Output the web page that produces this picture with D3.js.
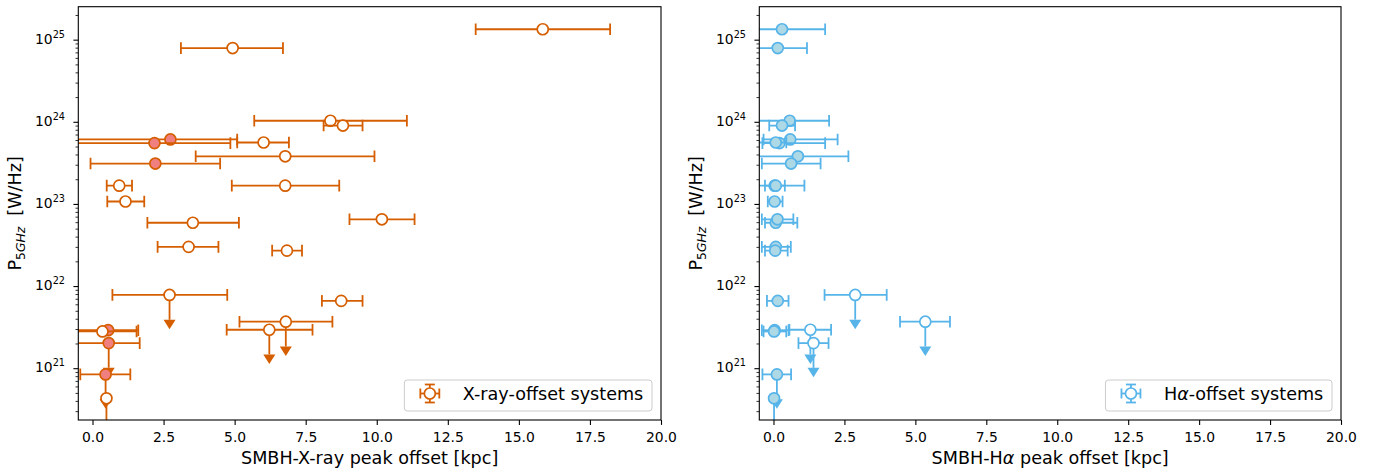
<!DOCTYPE html>
<html>
<head>
<meta charset="utf-8">
<script src="https://cdn.jsdelivr.net/npm/d3@7"></script>
<style>
  body { margin: 0; background: #fff; }
  text { font-family: "DejaVu Sans", sans-serif; fill: #000; }
</style>
</head>
<body>
<svg id="chart" width="1388" height="473"></svg>
<script>
// 5 GHz radio power of each system [W/Hz]
const power = [1.34e25, 7.9e24, 1.03e24, 9.0e23, 6.1e23, 5.5e23, 5.6e23, 3.8e23, 3.1e23,
  1.67e23, 1.67e23, 1.07e23, 5.9e22, 6.5e22, 3.0e22, 2.7e22, 7.8e21, 6.6e21, 3.68e21,
  2.94e21, 2.9e21, 2.8e21, 2.02e21, 8.4e20, 4.3e20];
// radio power is only an upper limit
const upperLimit = [false, false, false, false, false, false, false, false, false,
  false, false, false, false, false, false, false, true, false, true,
  true, false, false, true, true, true];

// SMBH - X-ray peak offset [kpc] with lower / upper error bounds
const xrayOffset = [15.84, 4.93, 8.37, 8.81, 2.74, 2.18, 6.02, 6.78, 2.21,
  0.94, 6.78, 1.16, 3.53, 10.18, 3.38, 6.84, 2.71, 8.75, 6.80,
  6.22, 0.55, 0.35, 0.57, 0.46, 0.49];
const xrayLow = [13.48, 3.11, 5.69, 8.13, -0.8, -0.8, 5.09, 3.63, -0.07,
  0.50, 4.90, 0.52, 1.93, 9.04, 2.29, 6.32, 0.70, 8.07, 5.17,
  4.72, -0.8, -0.8, -0.8, -0.43, null];
const xrayHigh = [18.21, 6.70, 11.06, 9.50, 5.09, 4.85, 6.91, 9.92, 4.49,
  1.39, 8.68, 1.82, 5.15, 11.33, 4.43, 7.37, 4.74, 9.50, 8.44,
  7.74, 1.61, 1.55, 1.66, 1.33, null];
const xrayFilled = [false, false, false, false, true, true, false, false, true,
  false, false, false, false, false, false, false, false, false, false,
  false, true, false, true, true, false];

// SMBH - Halpha peak offset [kpc] with lower / upper error bounds
const haOffset = [0.30, 0.15, 0.57, 0.30, 0.59, 0.21, 0.08, 0.86, 0.62,
  0.04, 0.08, 0.04, 0.08, 0.14, 0.08, 0.06, 2.88, 0.15, 5.35,
  1.30, 0.04, 0.02, 1.41, 0.12, 0.02];
const haLow = [-0.9, -0.9, -0.9, -0.15, -0.35, -0.39, -0.6, -0.9, -0.41,
  -0.9, -0.3, -0.2, -0.3, -0.41, -0.41, -0.3, 1.80, -0.23, 4.46,
  0.56, -0.41, -0.35, 0.88, -0.39, null];
const haHigh = [1.82, 1.18, 1.96, 0.76, 2.26, 1.82, 0.45, 2.64, 1.66,
  1.09, 0.40, 0.32, 0.84, 0.70, 0.61, 0.50, 3.99, 0.53, 6.22,
  2.03, 0.53, 0.45, 1.94, 0.62, null];
const haFilled = [true, true, true, true, true, true, true, true, true,
  true, true, true, true, true, true, true, false, true, false,
  false, true, true, false, true, true];

const xTicks = [0, 2.5, 5, 7.5, 10, 12.5, 15, 17.5, 20];
const yTicks = [1e21, 1e22, 1e23, 1e24, 1e25];

const svg = d3.select("#chart");
const plotTop = 6.7, plotBottom = 420;
const capHalf = 5.8;

const panels = [
  {
    left: 78.3, right: 661,
    offset: xrayOffset, low: xrayLow, high: xrayHigh, filled: xrayFilled,
    color: "#D55E00", fillColor: "#F08080",
    xlabel: [["SMBH-X-ray peak offset [kpc]", false]],
    legend: [["X-ray-offset systems", false]],
    ylabelX: 21
  },
  {
    left: 759.3, right: 1341,
    offset: haOffset, low: haLow, high: haHigh, filled: haFilled,
    color: "#56B4E9", fillColor: "#ADD8E6",
    xlabel: [["SMBH-H", false], ["α", true], [" peak offset [kpc]", false]],
    legend: [["H", false], ["α", true], ["-offset systems", false]],
    ylabelX: 702
  }
];

function addPieces(text, pieces) {
  pieces.forEach(([s, italic]) => {
    text.append("tspan").attr("font-style", italic ? "italic" : null).text(s);
  });
}

panels.forEach((p, idx) => {
  const x = d3.scaleLinear().domain([-0.5, 20]).range([p.left, p.right]);
  const y = d3.scaleLog().domain([2.34e20, 2.52e25]).range([plotBottom, plotTop]);

  svg.append("clipPath").attr("id", "clip" + idx)
    .append("rect")
    .attr("x", p.left).attr("y", plotTop)
    .attr("width", p.right - p.left).attr("height", plotBottom - plotTop);

  // x axis
  const xAxis = svg.append("g")
    .attr("transform", `translate(0,${plotBottom})`)
    .call(d3.axisBottom(x).tickValues(xTicks).tickFormat(d3.format(".1f"))
      .tickSize(4.9).tickPadding(7.5));
  xAxis.select(".domain").remove();
  xAxis.selectAll(".tick line").attr("stroke-width", 1.1);
  xAxis.selectAll(".tick text").attr("font-size", 13.9).attr("font-family", "DejaVu Sans");

  // y axis, minor ticks first
  const minor = [];
  for (let e = 20; e <= 25; e++) {
    for (let k = 2; k <= 9; k++) {
      const v = k * Math.pow(10, e);
      if (v > y.domain()[0] && v < y.domain()[1]) minor.push(v);
    }
  }
  const yMinor = svg.append("g")
    .attr("transform", `translate(${p.left},0)`)
    .call(d3.axisLeft(y).tickValues(minor).tickFormat("").tickSize(2.8));
  yMinor.select(".domain").remove();
  yMinor.selectAll(".tick line").attr("stroke-width", 0.8);

  const yAxis = svg.append("g")
    .attr("transform", `translate(${p.left},0)`)
    .call(d3.axisLeft(y).tickValues(yTicks).tickFormat("").tickSize(4.9).tickPadding(8.4));
  yAxis.select(".domain").remove();
  yAxis.selectAll(".tick line").attr("stroke-width", 1.1);
  yAxis.selectAll(".tick text")
    .attr("font-family", "DejaVu Sans")
    .attr("dy", "0.36em")
    .each(function (d) {
      const t = d3.select(this);
      t.append("tspan").attr("font-size", 13.9).text("10");
      t.append("tspan").attr("font-size", 9.7).attr("dy", -6)
        .text(Math.round(Math.log10(d)));
    });

  // data
  const pts = power.map((v, i) => ({
    p: v, x: p.offset[i], lo: p.low[i], hi: p.high[i],
    filled: p.filled[i], ul: upperLimit[i]
  }));

  const plot = svg.append("g").attr("clip-path", `url(#clip${idx})`);
  const grp = plot.selectAll("g.pt").data(pts).join("g").attr("class", "pt");

  const withErr = grp.filter(d => d.lo != null);
  withErr.append("line")
    .attr("x1", d => x(d.lo)).attr("x2", d => x(d.hi))
    .attr("y1", d => y(d.p)).attr("y2", d => y(d.p))
    .attr("stroke", p.color).attr("stroke-width", 1.8);
  ["lo", "hi"].forEach(k => {
    withErr.append("line")
      .attr("x1", d => x(d[k])).attr("x2", d => x(d[k]))
      .attr("y1", d => y(d.p) - capHalf).attr("y2", d => y(d.p) + capHalf)
      .attr("stroke", p.color).attr("stroke-width", 1.8);
  });

  const lim = grp.filter(d => d.ul);
  lim.append("line")
    .attr("x1", d => x(d.x)).attr("x2", d => x(d.x))
    .attr("y1", d => y(d.p)).attr("y2", d => y(d.p / 2))
    .attr("stroke", p.color).attr("stroke-width", 1.8);
  lim.append("path")
    .attr("d", d => {
      const cx = x(d.x), cy = y(d.p / 2);
      return `M${cx - 6},${cy}L${cx + 6},${cy}L${cx},${cy + 9.5}Z`;
    })
    .attr("fill", p.color);

  grp.append("circle")
    .attr("cx", d => x(d.x)).attr("cy", d => y(d.p)).attr("r", 5.5)
    .attr("fill", d => d.filled ? p.fillColor : "#fff")
    .attr("stroke", p.color).attr("stroke-width", 1.7);

  // frame
  svg.append("rect")
    .attr("x", p.left).attr("y", plotTop)
    .attr("width", p.right - p.left).attr("height", plotBottom - plotTop)
    .attr("fill", "none").attr("stroke", "#000").attr("stroke-width", 1.1);

  // axis labels
  const xl = svg.append("text")
    .attr("x", (p.left + p.right) / 2).attr("y", 464)
    .attr("text-anchor", "middle").attr("font-size", 17.6);
  addPieces(xl, p.xlabel);

  const yl = svg.append("text")
    .attr("transform", `translate(${p.ylabelX},${(plotTop + plotBottom) / 2}) rotate(-90)`)
    .attr("text-anchor", "middle").attr("font-size", 17.6);
  yl.append("tspan").text("P");
  yl.append("tspan").attr("font-size", 12.3).attr("dy", 4).text("5");
  yl.append("tspan").attr("font-size", 12.3).attr("font-style", "italic").text("GHz");
  yl.append("tspan").attr("dy", -4).text("\u00a0 [W/Hz]");

  // legend (lower right)
  const leg = svg.append("g");
  const box = leg.append("rect");
  const lt = leg.append("text").attr("font-size", 17.6).attr("y", 400);
  addPieces(lt, p.legend);
  const textLen = lt.node().getComputedTextLength();
  const boxRight = p.right - 9;
  const textStart = boxRight - 8.7 - textLen;
  lt.attr("x", textStart);
  const hx = textStart - 33, hy = 393.5;
  const boxLeft = hx - 25.5;
  box.attr("x", boxLeft).attr("y", 380)
    .attr("width", boxRight - boxLeft).attr("height", 31)
    .attr("rx", 3)
    .attr("fill", "#fff").attr("fill-opacity", 0.8)
    .attr("stroke", "#cccccc").attr("stroke-width", 1);
  const hs = [
    [hx - 9.5, hy, hx + 9.5, hy], [hx, hy - 9, hx, hy + 9],
    [hx - 9.5, hy - 5, hx - 9.5, hy + 5], [hx + 9.5, hy - 5, hx + 9.5, hy + 5],
    [hx - 5, hy - 9, hx + 5, hy - 9], [hx - 5, hy + 9, hx + 5, hy + 9]
  ];
  hs.forEach(s => {
    leg.append("line")
      .attr("x1", s[0]).attr("y1", s[1]).attr("x2", s[2]).attr("y2", s[3])
      .attr("stroke", p.color).attr("stroke-width", 1.8);
  });
  leg.append("circle").attr("cx", hx).attr("cy", hy).attr("r", 5.5)
    .attr("fill", "#fff").attr("stroke", p.color).attr("stroke-width", 1.7);
});
</script>
</body>
</html>
